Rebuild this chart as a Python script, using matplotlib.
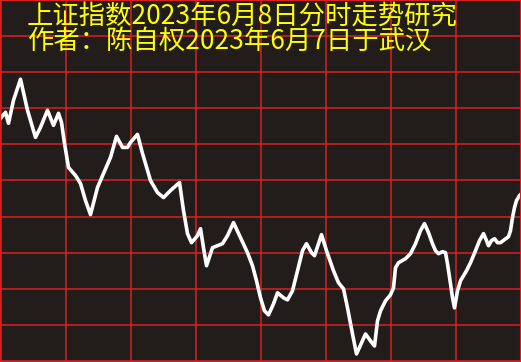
import matplotlib
matplotlib.use('Agg')
import matplotlib.pyplot as plt
import numpy as np

plt.rcParams['font.family'] = ['Noto Sans CJK SC', 'DejaVu Sans']

# intraday trace (time position, level)
t = [0, 5, 8, 13, 20, 27, 35, 40, 47, 53, 58, 61, 64, 68, 75, 80, 85, 90, 97, 103,
     110, 116, 122, 127, 130, 137, 142, 150, 157, 163, 170, 179, 183, 187, 191, 197,
     200, 203, 206, 212, 217, 222, 227, 233, 240, 247, 252, 256, 260, 264, 268, 273,
     277, 283, 287, 292, 297, 302, 306, 311, 314, 318, 321, 326, 333, 338, 343, 347,
     352, 356, 361, 365, 370, 374, 377, 380, 385, 390, 393, 395, 398, 405, 410, 415,
     420, 424, 428, 432, 435, 438, 442, 445, 447, 450, 452, 454, 457, 460, 466, 470,
     475, 479, 483, 486, 488, 491, 494, 497, 500, 504, 508, 510, 512, 514, 516, 519, 521]
px_y = [118, 112, 123, 100, 79, 110, 137, 127, 110, 125, 113, 122, 143, 167, 175, 183,
        200, 214, 187, 173, 157, 136, 147, 147, 142, 134, 153, 180, 192, 197, 190, 182,
        210, 233, 242, 235, 228, 247, 265, 247, 245, 243, 235, 222, 237, 252, 265, 280,
        297, 310, 314, 303, 292, 297, 299, 290, 270, 250, 243, 252, 255, 243, 234, 250,
        270, 282, 288, 307, 333, 353, 342, 333, 340, 345, 320, 310, 300, 294, 287, 267,
        262, 258, 253, 243, 230, 223, 232, 243, 250, 253, 251, 252, 263, 283, 297, 307,
        290, 280, 270, 262, 250, 240, 233, 240, 245, 240, 238, 242, 242, 239, 236, 230,
        217, 207, 200, 195, 193]
level = [361 - v for v in px_y]

title_1 = '上证指数2023年6月8日分时走势研究'
title_2 = '作者：陈自权2023年6月7日于武汉'

BG = '#221c1a'
GRID = '#d82222'

fig = plt.figure(figsize=(5.21, 3.62), dpi=100, facecolor=BG)
ax = fig.add_axes([0, 0, 1, 1])
ax.set_facecolor(BG)
ax.set_xlim(-0.5, 520.5)
ax.set_ylim(0, 361)

ax.set_xticks(np.arange(0, 521, 65))
ax.set_yticks(np.arange(1, 362, 36))
ax.grid(True, color=GRID, linewidth=1.1)
ax.tick_params(length=0, labelbottom=False, labelleft=False)
for s in ax.spines.values():
    s.set_color(GRID)
    s.set_linewidth(1.5)

ax.plot(t, level, color='white', linewidth=2.6, solid_joinstyle='round')

fig.text(27 / 521, 1 - 16 / 362, title_1, color='#ffff00', fontsize=19,
         ha='left', va='center')
fig.text(27 / 521, 1 - 41 / 362, title_2, color='#ffff00', fontsize=19,
         ha='left', va='center')

fig.savefig('out.png', dpi=100, facecolor=BG)
